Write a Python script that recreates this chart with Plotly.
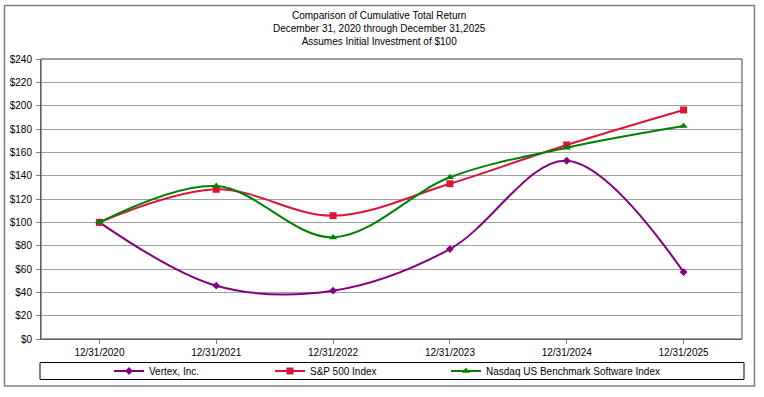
import plotly.graph_objects as go

categories = ["12/31/2020", "12/31/2021", "12/31/2022", "12/31/2023", "12/31/2024", "12/31/2025"]
vertex = [100, 45.7, 41.4, 77.1, 152.8, 57.4]
sp500 = [100, 128.3, 105.7, 133.1, 166.3, 196.3]
nasdaq_sw = [100, 131.1, 87.1, 138.6, 164.0, 182.5]
y_ticks = [0, 20, 40, 60, 80, 100, 120, 140, 160, 180, 200, 220, 240]
y_tick_labels = ["$" + str(v) for v in y_ticks]
title_lines = ["Comparison of Cumulative Total Return",
               "December 31, 2020 through December 31,2025",
               "Assumes Initial Investment of $100"]

FONT = "Liberation Sans, Arial, sans-serif"

L, T = 41, 59
PW, PH = 701, 280
W, H = 764, 397


def px(xr):
    return (xr - 41) / PW


def py(yr):
    return (339 - yr) / PH


fig = go.Figure()
series = [
    ("Vertex, Inc.", vertex, "#800080", "diamond", 6, "legend", 109),
    ("S&P 500 Index", sp500, "#DC143C", "square", 7, "legend2", 270),
    ("Nasdaq US Benchmark Software Index", nasdaq_sw, "#008000", "triangle-up", 7, "legend3", 446),
]
legends = {}
for name, vals, color, sym, size, lg, lx in series:
    fig.add_trace(go.Scatter(
        x=categories, y=vals, name=name, mode="lines+markers",
        line=dict(color=color, width=2, shape="spline", smoothing=1.0),
        marker=dict(symbol=sym, size=size, color=color),
        legend=lg,
    ))
    legends[lg] = dict(
        orientation="h", x=px(lx), xanchor="left", y=py(371), yanchor="middle",
        bgcolor="rgba(0,0,0,0)", borderwidth=0,
        font=dict(family=FONT, size=10), itemwidth=30,
    )

fig.update_layout(
    width=W, height=H,
    margin=dict(l=L, r=W - L - PW, t=T, b=H - T - PH, autoexpand=False),
    paper_bgcolor="white", plot_bgcolor="white",
    font=dict(family=FONT, size=10, color="#000000"),
    showlegend=True,
    xaxis=dict(
        type="category", range=[-0.5, 5.5], showgrid=False,
        ticks="outside", ticklen=4, tickcolor="#808080",
        showline=True, linecolor="#808080", linewidth=1, automargin=False,
        tickfont=dict(family=FONT, size=10), zeroline=False, fixedrange=True,
    ),
    yaxis=dict(
        range=[0, 240], tickvals=y_ticks, ticktext=y_tick_labels,
        showgrid=True, gridcolor="#a0a0a0", gridwidth=1,
        ticks="outside", ticklen=4, tickcolor="#808080", ticklabelstandoff=2,
        showline=True, linecolor="#808080", linewidth=1, automargin=False,
        zeroline=False, tickfont=dict(family=FONT, size=10), fixedrange=True,
    ),
    **legends,
)

# plot area frame
fig.add_shape(type="rect", xref="paper", yref="paper", x0=0, x1=1, y0=0, y1=1,
              line=dict(color="#404040", width=1), layer="above")
# legend box
fig.add_shape(type="rect", xref="paper", yref="paper",
              x0=px(40), x1=px(744), y0=py(379.5), y1=py(362.5),
              line=dict(color="#000000", width=1))
# outer border
fig.add_shape(type="rect", xref="paper", yref="paper",
              x0=px(4.5), x1=px(754.5), y0=py(386), y1=py(5.5),
              line=dict(color="#808080", width=1.5))

fig.add_annotation(
    text="<br>".join(title_lines), xref="paper", yref="paper",
    x=px(379.5), y=py(29), xanchor="center", yanchor="middle",
    showarrow=False, align="center",
    font=dict(family=FONT, size=10, color="#000000"),
)

fig.write_html("out.html", config={"displayModeBar": False},
               post_script="document.body.style.margin='0';")
